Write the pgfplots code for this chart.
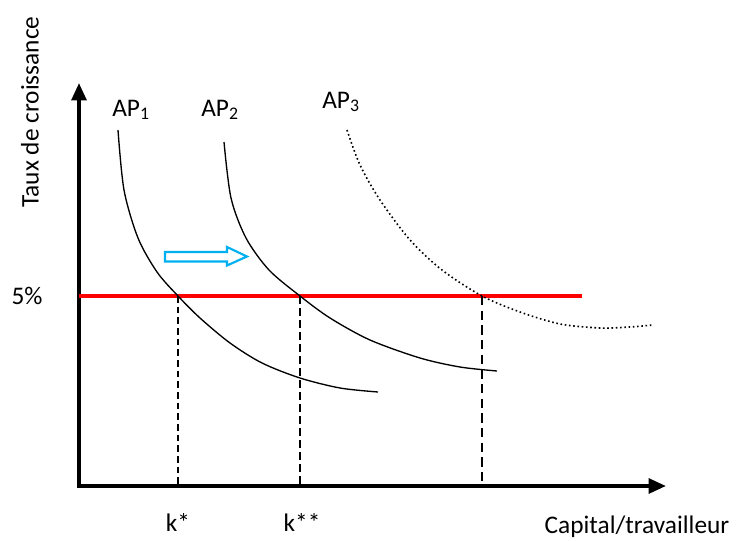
\documentclass[border=0pt]{standalone}
\usepackage{pgfplots}
\pgfplotsset{compat=1.18}
\usepackage{fontspec}
\setmainfont{Carlito}
\usetikzlibrary{arrows.meta}
\definecolor{arrowblue}{RGB}{0,176,240}
\tikzset{lbl/.style={font=\fontsize{19}{22}\selectfont, inner sep=0pt}}
\begin{document}
\begin{tikzpicture}
\begin{axis}[
  scale only axis, width=552.75pt, height=405pt,
  xmin=0, xmax=737, ymin=-540, ymax=0,
  hide axis, clip=false,
]
% bounding corners
\addplot[draw=none] coordinates {(0,0) (737,-540)};
% axes
\draw[line width=2.8pt, -{Triangle[length=13pt,width=11pt]}] (axis cs:79,-487) -- (axis cs:79,-83);
\draw[line width=2.8pt, -{Triangle[length=13pt,width=11pt]}] (axis cs:77,-486) -- (axis cs:666,-486);
% red line
\addplot[red, line width=3pt] coordinates {(79,-296) (582,-296)};
% dashed verticals
\addplot[black, line width=0.9pt, dash pattern=on 5pt off 3pt] coordinates {(178,-296) (178,-486)};
\addplot[black, line width=1.5pt, dash pattern=on 6pt off 3pt] coordinates {(300,-296) (300,-486)};
\addplot[black, line width=2pt, dash pattern=on 7pt off 4pt] coordinates {(482,-296) (482,-486)};
% AP1
\addplot[black, line width=1pt, smooth] coordinates {
(118,-130) (124,-190) (138,-238) (157,-272) (178,-296) (200,-318) (230,-343) (262,-363) (300,-378) (340,-388) (378,-392)};
% AP2
\addplot[black, line width=1pt, smooth] coordinates {
(224,-142) (231,-198) (246,-238) (269,-270) (300,-296) (330,-318) (370,-340) (420,-358) (460,-367) (497,-371)};
% AP3
\addplot[black, line width=1.2pt, dotted, smooth] coordinates {
(347,-130) (360,-165) (380,-200) (410,-240) (442,-270) (482,-296) (520,-312) (560,-324) (600,-328) (630,-327) (653,-325)};
% blue arrow
\draw[arrowblue, line width=1.6pt, line join=miter] (axis cs:165,-252) -- (axis cs:227,-252) -- (axis cs:227,-247) -- (axis cs:247,-256.5) -- (axis cs:227,-265.5) -- (axis cs:227,-261.5) -- (axis cs:165,-261.5) -- cycle;
% labels
\node[lbl] at (axis cs:131,-110) {AP\textsubscript{1}};
\node[lbl] at (axis cs:220,-110) {AP\textsubscript{2}};
\node[lbl] at (axis cs:341,-102) {AP\textsubscript{3}};
\node[lbl] at (axis cs:27,-296) {5\%};
\node[lbl] at (axis cs:178,-522) {k*};
\node[lbl] at (axis cs:302,-522) {k**};
\node[lbl] at (axis cs:637,-527) {Capital/travailleur};
\node[lbl,rotate=90] at (axis cs:30,-112) {Taux de croissance};
\end{axis}
\end{tikzpicture}
\end{document}
